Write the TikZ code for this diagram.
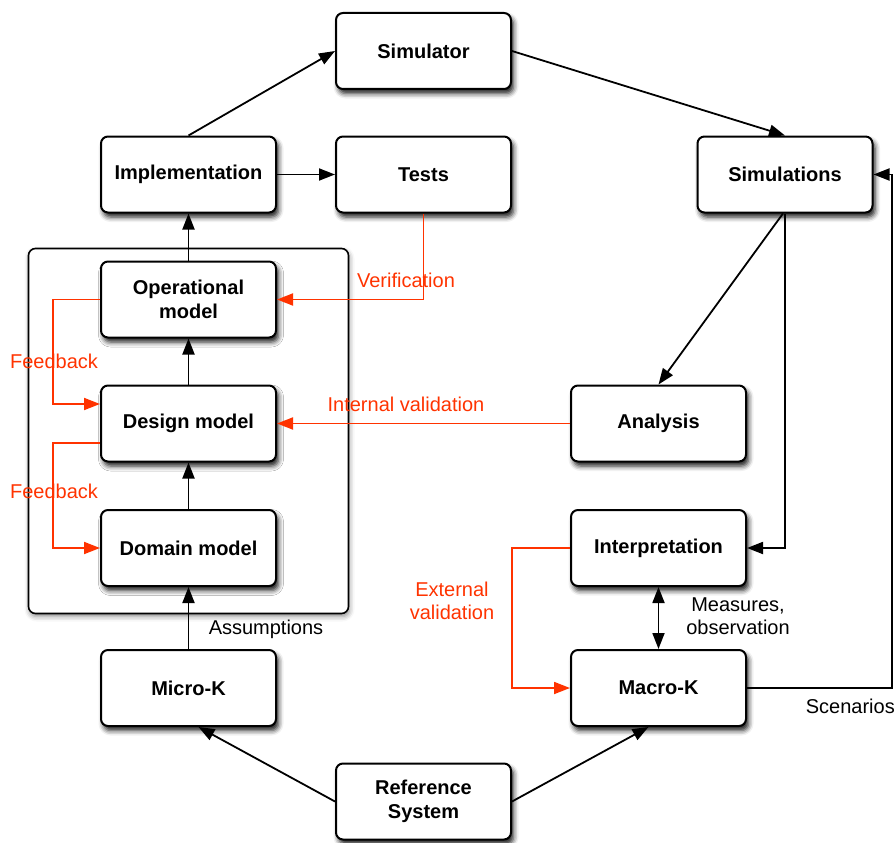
\documentclass[tikz,border=0pt]{standalone}
\usepackage{fontspec}
\setmainfont{Liberation Sans}
\usetikzlibrary{arrows.meta,shadows.blur}
\definecolor{fbred}{RGB}{255,51,0}
\begin{document}
\begin{tikzpicture}[x=1pt,y=-1pt,
  font=\fontsize{20}{23}\selectfont,
  box/.style={draw=black, line width=2pt, rounded corners=7pt, fill=white,
    minimum width=175pt, minimum height=76pt, inner sep=0pt, align=center,
    font=\fontsize{20}{24}\selectfont\bfseries,
    blur shadow={shadow xshift=2.5pt, shadow yshift=-4.5pt, shadow blur radius=5pt, shadow opacity=90}},
  group/.style={draw=black, line width=1.6pt, rounded corners=7pt, fill=white,
    minimum width=320pt, minimum height=365pt, inner sep=0pt,
    blur shadow={shadow xshift=1pt, shadow yshift=-3pt, shadow blur radius=5pt, shadow opacity=45}},
  arr/.style={line width=1.8pt, -{Triangle[length=16pt,width=12pt]}},
  dblarr/.style={line width=1.8pt, {Triangle[length=16pt,width=12pt]}-{Triangle[length=16pt,width=12pt]}},
  redarr/.style={arr, draw=fbred},
  lbl/.style={inner sep=0pt, align=center},
  redlbl/.style={lbl, text=fbred}]

\useasboundingbox (0,0) rectangle (895,843);

% grouping frame around the three model levels
\node[group] (frame) at (188.5,431) {};

% boxes
\node[box] (sim)    at (423.5,51)    {Simulator};
\node[box] (impl)   at (188.5,174.5) {Implementation};
\node[box] (tests)  at (423.5,174.5) {Tests};
\node[box] (sims)   at (785,174.5)   {Simulations};
\node[box] (op)     at (188.5,299.5) {Operational\\model};
\node[box] (des)    at (188.5,423.5) {Design model};
\node[box] (dom)    at (188.5,548)   {Domain model};
\node[box] (ana)    at (658.5,423.5) {Analysis};
\node[box] (interp) at (658.5,548)   {Interpretation};
\node[box] (micro)  at (188.5,688)   {Micro-K};
\node[box] (macro)  at (658.5,688)   {Macro-K};
\node[box] (ref)    at (423.5,801.5) {Reference\\System};

\coordinate (scn) at (892,688);

% black flow
\draw[arr] (impl.north) -- (sim.west);
\draw[arr] (sim.east) -- (sims.north);
\draw[arr] (impl) -- (tests);
\draw[arr] (op) -- (impl);
\draw[arr] (des) -- (op);
\draw[arr] (dom) -- (des);
\draw[arr] (micro) -- (dom);
\draw[arr] ([xshift=-2pt]sims.south) -- (ana.north);
\draw[arr] (sims.south) |- (interp.east);
\draw[dblarr] (interp) -- (macro);
\draw[arr] (macro.east) -- (scn) |- (sims.east);
\draw[arr] (ref.west) -- ([xshift=10pt]micro.south);
\draw[arr] (ref.east) -- ([xshift=-10pt]macro.south);

% red feedback and validation
\draw[redarr] (tests.south) |- (op.east);
\draw[redarr] (ana.west) -- (des.east);
\draw[redarr] (op.west) -- ++(-47,0) |- ([yshift=19.5pt]des.west);
\draw[redarr] ([yshift=-19.5pt]des.west) -- ++(-47,0) |- (dom.west);
\draw[redarr] (interp.west) -- ++(-58,0) |- (macro.west);

% labels
\node[redlbl] (lver)  at (406,280) {Verification};
\node[redlbl] (lint)  at (406,404) {Internal validation};
\node[redlbl] (lfb1)  at (54,361)  {Feedback};
\node[redlbl] (lfb2)  at (54,491)  {Feedback};
\node[redlbl] (lext)  at (452,601) {External\\validation};
\node[lbl] (lmeas) at (738,616) {Measures,\\observation};
\node[lbl] (lass)  at (266,629) {Assumptions};
\node[lbl, anchor=east] (lscn) at (895,706) {Scenarios};
\end{tikzpicture}
\end{document}
